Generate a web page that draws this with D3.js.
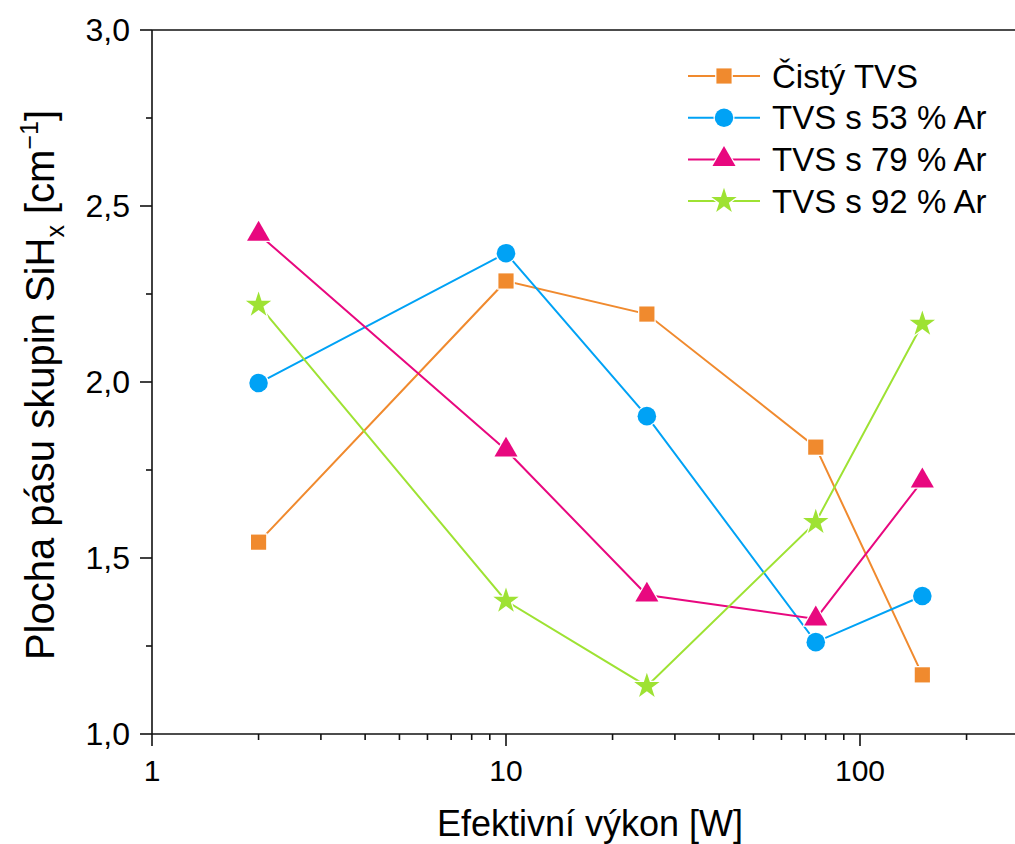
<!DOCTYPE html>
<html>
<head>
<meta charset="utf-8">
<script src="https://cdn.jsdelivr.net/npm/d3@7"></script>
<style>
	body { margin: 0; background: #fff; }
	svg { display: block; font-family: 'Liberation Sans', Arial, sans-serif; }
</style>
</head>
<body>
<div id="chart"></div>
<script>
const power = [2, 10, 25, 75, 150];
const seriesNames = ['Čistý TVS', 'TVS s 53 % Ar', 'TVS s 79 % Ar', 'TVS s 92 % Ar'];
const pureTVS = [1.545, 2.287, 2.193, 1.815, 1.168];
const ar53 = [1.997, 2.366, 1.903, 1.261, 1.392];
const ar79 = [2.42, 1.807, 1.395, 1.327, 1.719];
const ar92 = [2.219, 1.378, 1.136, 1.602, 2.165];
const yTicks = [1.0, 1.5, 2.0, 2.5, 3.0];
const xTicks = [1, 10, 100];

const colors = ['#f08a2e', '#00a2f5', '#e8087f', '#9ee233'];
const symbols = [d3.symbolSquare, d3.symbolCircle, d3.symbolTriangle, d3.symbolStar];
const symbolSizes = [230, 270, 230, 200];

const series = [pureTVS, ar53, ar79, ar92].map((vals, i) => ({
	name: seriesNames[i],
	color: colors[i],
	symbol: symbols[i],
	size: symbolSizes[i],
	points: vals.map((v, j) => ({ x: power[j], y: v }))
}));

const W = 1015;
const H = 844;
const margin = { top: 30, left: 152, bottom: 110 };

const svg = d3.select('#chart').append('svg').attr('width', W).attr('height', H);

// x axis runs past the right edge of the picture
const xScale = d3.scaleLog().domain([1, 300]).range([margin.left, margin.left + 354 * Math.log10(300)]);
const yScale = d3.scaleLinear().domain([1, 3]).range([H - margin.bottom, margin.top]);

const yBottom = yScale(1);
const yTop = yScale(3);

// minor ticks
const xMinor = [];
for (let d = 1; d <= 100; d *= 10) {
	for (let k = 2; k <= 9; k++) {
		if (d * k <= 300) xMinor.push(d * k);
	}
}
const yMinor = d3.range(1.25, 3, 0.5);

const axisG = svg.append('g').attr('stroke', '#111').attr('stroke-width', 1.6);

axisG.append('line').attr('x1', margin.left).attr('x2', W).attr('y1', yBottom).attr('y2', yBottom);
axisG.append('line').attr('x1', margin.left).attr('x2', W).attr('y1', yTop).attr('y2', yTop);
axisG.append('line').attr('x1', margin.left).attr('x2', margin.left).attr('y1', yTop).attr('y2', yBottom);

axisG.selectAll('.ymaj').data(yTicks).join('line')
	.attr('x1', margin.left - 12).attr('x2', margin.left)
	.attr('y1', (d) => yScale(d)).attr('y2', (d) => yScale(d));
axisG.selectAll('.ymin').data(yMinor).join('line')
	.attr('x1', margin.left - 6).attr('x2', margin.left)
	.attr('y1', (d) => yScale(d)).attr('y2', (d) => yScale(d));
axisG.selectAll('.xmaj').data(xTicks).join('line')
	.attr('x1', (d) => xScale(d)).attr('x2', (d) => xScale(d))
	.attr('y1', yBottom).attr('y2', yBottom + 12);
axisG.selectAll('.xmin').data(xMinor).join('line')
	.attr('x1', (d) => xScale(d)).attr('x2', (d) => xScale(d))
	.attr('y1', yBottom).attr('y2', yBottom + 6);

svg.selectAll('.ylab').data(yTicks).join('text')
	.attr('x', margin.left - 22)
	.attr('y', (d) => yScale(d))
	.attr('dy', '0.35em')
	.attr('text-anchor', 'end')
	.style('font-size', '32px')
	.text((d) => d.toFixed(1).replace('.', ','));

svg.selectAll('.xlab').data(xTicks).join('text')
	.attr('x', (d) => xScale(d))
	.attr('y', yBottom + 47)
	.attr('text-anchor', 'middle')
	.style('font-size', '30px')
	.text((d) => d);

// axis titles
svg.append('text')
	.attr('x', 590).attr('y', 836)
	.attr('text-anchor', 'middle')
	.style('font-size', '36px')
	.text('Efektivní výkon [W]');

const yTitle = svg.append('text')
	.attr('transform', 'translate(54, 385) rotate(-90)')
	.attr('text-anchor', 'middle')
	.style('font-size', '40px');
yTitle.append('tspan').text('Plocha pásu skupin SiH');
yTitle.append('tspan').attr('dy', 10).style('font-size', '25px').text('x');
yTitle.append('tspan').attr('dy', -10).text(' [cm');
yTitle.append('tspan').attr('dy', -16).style('font-size', '25px').text('−1');
yTitle.append('tspan').attr('dy', 16).text(']');

// series
const line = d3.line().x((d) => xScale(d.x)).y((d) => yScale(d.y));

series.forEach((s) => {
	svg.append('path')
		.datum(s.points)
		.attr('fill', 'none')
		.attr('stroke', s.color)
		.attr('stroke-width', 2)
		.attr('d', line);
});

series.forEach((s) => {
	svg.selectAll(null).data(s.points).join('path')
		.attr('transform', (d) => `translate(${xScale(d.x)}, ${yScale(d.y)})`)
		.attr('d', d3.symbol().type(s.symbol).size(s.size))
		.attr('fill', s.color)
		.attr('stroke', '#fff')
		.attr('stroke-width', 2.5)
		.attr('paint-order', 'stroke');
});

// legend
const legend = svg.append('g').attr('transform', 'translate(688, 76)');
series.forEach((s, i) => {
	const g = legend.append('g').attr('transform', `translate(0, ${i * 41.7})`);
	g.append('line').attr('x1', 0).attr('x2', 72).attr('stroke', s.color).attr('stroke-width', 2);
	g.append('path')
		.attr('transform', 'translate(36, 0)')
		.attr('d', d3.symbol().type(s.symbol).size(s.size))
		.attr('fill', s.color)
		.attr('stroke', '#fff')
		.attr('stroke-width', 2.5)
		.attr('paint-order', 'stroke');
	g.append('text')
		.attr('x', 84)
		.attr('dy', '0.35em')
		.style('font-size', '33px')
		.text(s.name);
});
</script>
</body>
</html>
